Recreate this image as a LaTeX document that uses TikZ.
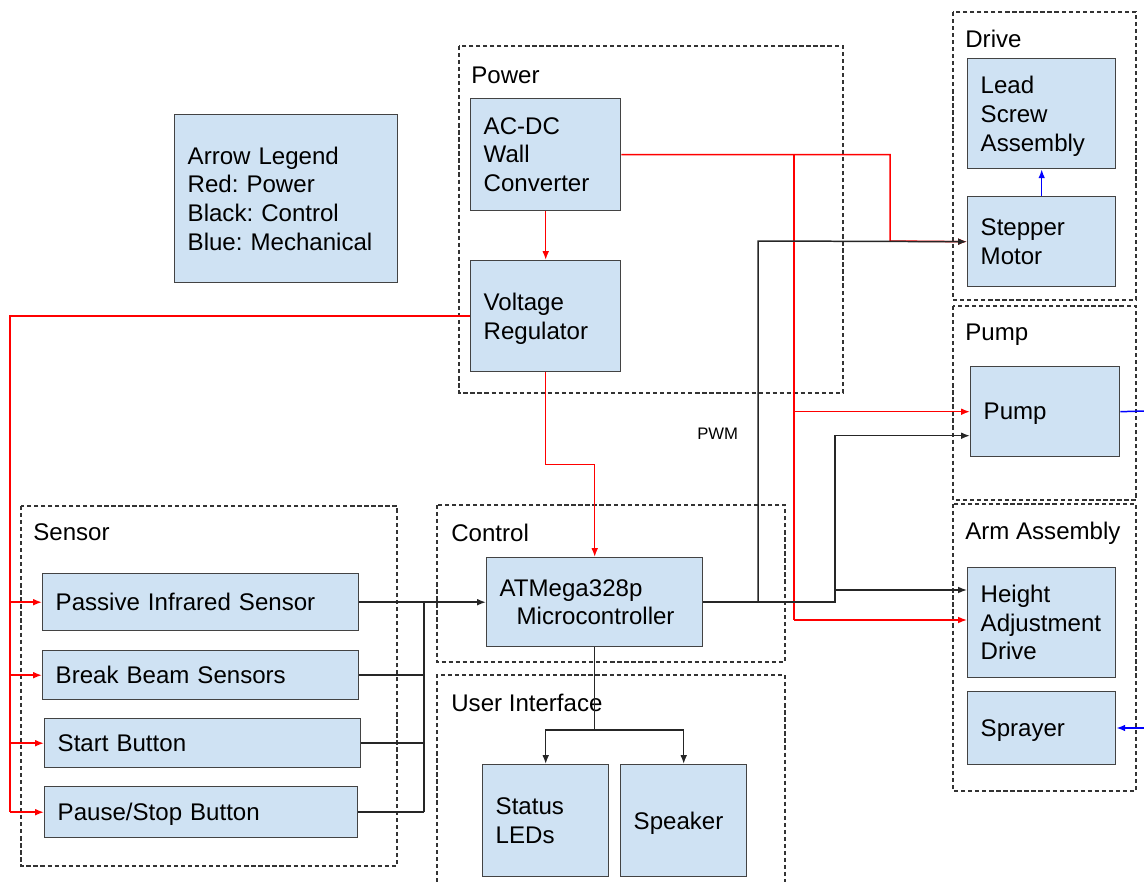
\documentclass[tikz,border=0pt]{standalone}
\usepackage{fontspec}
\setmainfont{Liberation Sans}
\usetikzlibrary{arrows.meta, positioning, calc}

\definecolor{boxfill}{RGB}{207,226,243}
\definecolor{boxline}{RGB}{67,67,67}

\begin{document}
\begin{tikzpicture}[x=0.02cm, y=-0.02cm, >={Latex[length=5pt, width=3.8pt]},
    every node/.style={font=\fontsize{13.7}{16.3}\selectfont\frenchspacing},
    blk/.style 2 args={draw=boxline, fill=boxfill, line width=0.8pt, anchor=north west,
        inner xsep=0.26cm, inner ysep=0pt, text width=#1*0.02cm-0.52cm,
        minimum height=#2*0.02cm, align=left},
    grp/.style={draw=black!80, line width=0.7pt, dash pattern=on 2.4pt off 1.6pt},
    glabel/.style={anchor=west, inner sep=0pt},
    pwr/.style={draw=red, line width=0.85pt},
    ctl/.style={draw=black!85, line width=0.85pt},
    mech/.style={draw=blue, line width=0.85pt}]
    \useasboundingbox (0,0) rectangle (1144,882);

    % dashed groups
    \draw[grp] (459,46) rectangle (843,393);
    \draw[grp] (953,12) rectangle (1136,300);
    \draw[grp] (953,306) rectangle (1136,500);
    \draw[grp] (953,504) rectangle (1136,791);
    \draw[grp] (21,506) rectangle (397,866);
    \draw[grp] (437,505) rectangle (785,662);
    \draw[grp] (437,882) -- (437,675) -- (785,675) -- (785,882);

    \node[glabel] (gpower) at (471,75) {Power};
    \node[glabel] (gdrive) at (965,39) {Drive};
    \node[glabel] (gpump) at (965,335) {Pump};
    \node[glabel] (garm) at (965,533) {Arm Assembly};
    \node[glabel] (gsensor) at (33,532) {Sensor};
    \node[glabel] (gcontrol) at (451,533) {Control};
    \node[glabel] (gui) at (451,703) {User Interface};

    % blocks (descenders left out of the centring)
    \node[blk={223}{168}] (legend) at (174,114) {Arrow Legend\\Red: Power\\Black: Control\\Blue: Mechanical};
    \node[blk={150}{112}] (acdc) at (470,98) {AC-DC\\Wall\\Converter};
    \node[blk={150}{111}, text depth=16.3pt] (vreg) at (470,260) {Voltage\\Regulator};
    \node[blk={148}{110}, text depth=32.6pt] (lead) at (967,58) {Lead\\Screw\\Assembly};
    \node[blk={148}{90}] (stepper) at (967,196) {Stepper\\Motor};
    \node[blk={149}{90}, text depth=0pt] (pump) at (970,366) {Pump};
    \node[blk={148}{110}] (hadj) at (967,567) {Height\\Adjustment\\Drive};
    \node[blk={148}{73}, text depth=0pt] (sprayer) at (967,691) {Sprayer};
    \node[blk={316}{57}] (pir) at (42,573) {Passive Infrared Sensor};
    \node[blk={316}{49}] (bbeam) at (42,650) {Break Beam Sensors};
    \node[blk={316}{49}] (start) at (44,718) {Start Button};
    \node[blk={313}{51}, text depth=0pt] (pause) at (44,786) {Pause/Stop Button};
    \node[blk={216}{89}] (mcu) at (486,557) {ATMega328p\\\hspace*{0.34cm}Microcontroller};
    \node[blk={126}{112}] (leds) at (482,764) {Status\\LEDs};
    \node[blk={126}{112}, text depth=0pt] (spk) at (620,764) {Speaker};

    \node[glabel, font=\fontsize{9.5}{11}\selectfont] (pwmlbl) at (697,434) {PWM};

    \coordinate (pbus) at (794,154);
    \coordinate (pbusend) at (794,620);
    \coordinate (rbus) at (10,316);
    \coordinate (sbus) at (424,603);
    \coordinate (pwm) at (758,241);
    \coordinate (cj) at (835,590);
    \coordinate (uij) at (594,730);
    \coordinate (pumpout) at (1144,411);
    \coordinate (sprayin) at (1144,728);

    % power
    \draw[pwr,->] (acdc.south) -- (vreg.north);
    \draw[pwr,->] (acdc.east) -| (890,241) -- (stepper.west);
    \draw[pwr, line width=1.6pt] (pbus) -- (pbusend);
    \draw[pwr,->] (pbus |- pump.west) -- (pump.west);
    \draw[pwr,->] (pbusend) -- (pbusend -| hadj.west);
    \draw[pwr,->] (vreg.south) -- ++(0,92) -| (mcu.north);
    \draw[pwr] (vreg.west) -| (rbus |- pause.west);
    \foreach \s in {pir, bbeam, start, pause}
        \draw[pwr,->] (rbus |- \s.west) -- (\s.west);

    % control
    \draw[ctl,->] (pir.east) -- (mcu.west);
    \draw[ctl, line width=1.3pt] (sbus |- pir.east) -- (sbus |- start.east);
    \draw[ctl] (sbus |- start.east) -- (sbus |- pause.east);
    \foreach \s in {bbeam, start, pause}
        \draw[ctl] (\s.east) -- (sbus |- \s.east);
    \draw[ctl,->] (mcu.east) -| (pwm) -- (stepper.west);
    \draw[ctl,->] (mcu.east) -| (cj) -- (cj -| hadj.west);
    \draw[ctl,->] (cj) |- ($(pump.west)+(0,24)$);
    \draw[ctl] (mcu.south) -- (mcu.south |- uij);
    \draw[ctl,->] (mcu.south |- uij) -| (leds.north);
    \draw[ctl,->] (mcu.south |- uij) -| (spk.north);

    % mechanical
    \draw[mech,->] (stepper.north) -- (lead.south);
    \draw[mech] (pump.east) -- (pumpout);
    \draw[mech,->] (sprayin) -- (sprayin -| sprayer.east);

\end{tikzpicture}
\end{document}
